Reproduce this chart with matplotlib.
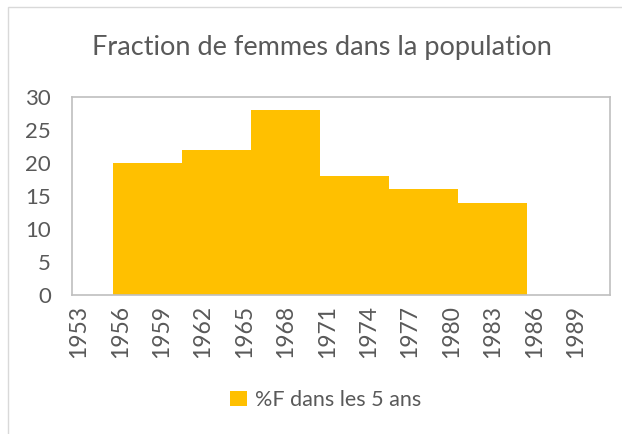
import matplotlib.pyplot as plt
from matplotlib.patches import Rectangle

# data
periods = [1958, 1963, 1968, 1973, 1978, 1983]   # centre of each 5-year period
pct_women = [20, 22, 28, 18, 16, 14]
tick_years = list(range(1953, 1990, 3))
y_ticks = [0, 5, 10, 15, 20, 25, 30]

text_gray = '#595959'
bar_color = '#FFC000'

plt.rcParams['font.family'] = ['Lato', 'DejaVu Sans']

fig = plt.figure(figsize=(6.22, 4.34), dpi=100)

# light chart border like the Excel chart area
fig.patches.append(Rectangle((8 / 622, -0.05), 1.1, 1 - 7 / 434 + 0.05,
                             transform=fig.transFigure, fill=False,
                             edgecolor='#D9D9D9', linewidth=1.0))

ax = fig.add_axes([72 / 622, 1 - 295 / 434, 538 / 622, 198 / 434])

ax.bar(periods, pct_women, width=5, color=bar_color, linewidth=0,
       label='%F dans les 5 ans')

ax.set_xlim(1952.5, 1991.5)
ax.set_ylim(0, 30)
ax.set_xticks(tick_years)
ax.set_xticklabels([str(y) for y in tick_years], rotation=90,
                   fontsize=16.5, color=text_gray)
ax.set_yticks(y_ticks)
ax.set_yticklabels([str(v) for v in y_ticks], fontsize=16, color=text_gray)
ax.tick_params(axis='both', length=0)
ax.tick_params(axis='x', pad=7)
ax.tick_params(axis='y', pad=15)

for side in ['left', 'right', 'top', 'bottom']:
    ax.spines[side].set_color('#BFBFBF')
    ax.spines[side].set_linewidth(1.2)

fig.text(322 / 622, 1 - 47 / 434, 'Fraction de femmes dans la population',
         ha='center', va='center', fontsize=19.5, color=text_gray)

leg = fig.legend(loc='center', bbox_to_anchor=(326 / 622, 1 - 400 / 434),
                 frameon=False, fontsize=15.5, handlelength=0.75,
                 handleheight=0.75, handletextpad=0.4)
for t in leg.get_texts():
    t.set_color(text_gray)

plt.savefig('out.png', dpi=100)
